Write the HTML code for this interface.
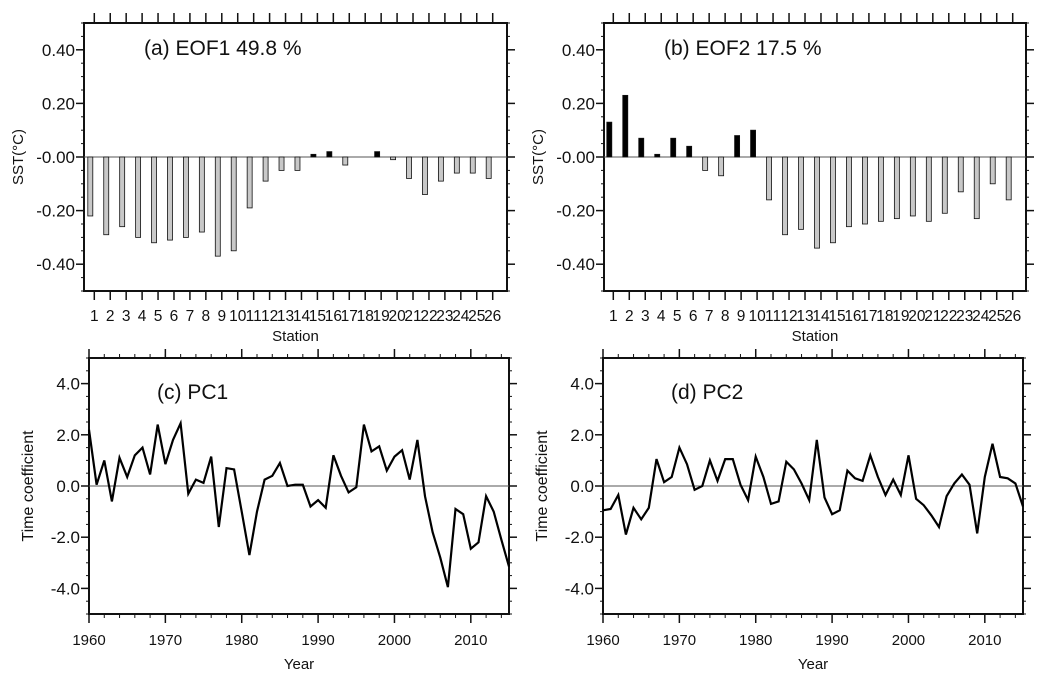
<!DOCTYPE html>
<html><head><meta charset="utf-8"><style>
html,body{margin:0;padding:0;background:#fff;}
svg{display:block;font-family:"Liberation Sans",Arial,sans-serif;}
</style></head><body>
<svg id="c" width="1056" height="687" viewBox="0 0 1056 687"></svg>
<script>
const stations = [1,2,3,4,5,6,7,8,9,10,11,12,13,14,15,16,17,18,19,20,21,22,23,24,25,26];
const eof1Values = [-0.22,-0.29,-0.26,-0.30,-0.32,-0.31,-0.30,-0.28,-0.37,-0.35,-0.19,-0.09,-0.05,-0.05,0.01,0.02,-0.03,0,0.02,-0.01,-0.08,-0.14,-0.09,-0.06,-0.06,-0.08];
const eof2Values = [0.13,0.23,0.07,0.01,0.07,0.04,-0.05,-0.07,0.08,0.10,-0.16,-0.29,-0.27,-0.34,-0.32,-0.26,-0.25,-0.24,-0.23,-0.22,-0.24,-0.21,-0.13,-0.23,-0.10,-0.16];
const years = [];
for (let y = 1960; y <= 2015; y++) years.push(y);
const pc1Values = [2.2,0.05,1.0,-0.6,1.1,0.35,1.2,1.5,0.45,2.4,0.85,1.8,2.45,-0.3,0.25,0.12,1.15,-1.6,0.7,0.65,-1.0,-2.7,-1.0,0.25,0.4,0.9,0.0,0.05,0.05,-0.8,-0.55,-0.85,1.2,0.4,-0.25,-0.05,2.4,1.35,1.55,0.6,1.15,1.4,0.25,1.8,-0.4,-1.8,-2.8,-3.95,-0.9,-1.1,-2.45,-2.2,-0.4,-1.0,-2.1,-3.15];
const pc2Values = [-0.95,-0.9,-0.35,-1.9,-0.85,-1.3,-0.85,1.05,0.15,0.35,1.5,0.85,-0.15,0.0,1.0,0.2,1.05,1.05,0.05,-0.55,1.15,0.35,-0.7,-0.6,0.95,0.65,0.1,-0.55,1.8,-0.45,-1.1,-0.95,0.6,0.3,0.2,1.2,0.35,-0.35,0.25,-0.35,1.2,-0.5,-0.75,-1.15,-1.6,-0.4,0.1,0.45,0.05,-1.85,0.35,1.65,0.35,0.3,0.1,-0.8];
const eofTickLabels = ["0.40","0.20","-0.00","-0.20","-0.40"];
const eofTickValues = [0.4,0.2,0,-0.2,-0.4];
const pcTickLabels = ["4.0","2.0","0.0","-2.0","-4.0"];
const pcTickValues = [4,2,0,-2,-4];
const yearTickValues = [1960,1970,1980,1990,2000,2010];

const NS = "http://www.w3.org/2000/svg";
const svg = document.getElementById('c');
function mk(tag, attrs, parent) {
  const e = document.createElementNS(NS, tag);
  for (const k in attrs) e.setAttribute(k, attrs[k]);
  (parent || svg).appendChild(e);
  return e;
}
function txt(x, y, s, size, anchor, parent) {
  const t = mk('text', {x: x, y: y, 'font-size': size, 'text-anchor': anchor || 'middle', fill: '#111'}, parent);
  t.textContent = s;
  return t;
}

function frame(g, L, T, R, B) {
  const r = mk('rect', {x: L, y: T, width: R - L, height: B - T, fill: 'none', stroke: '#111', 'stroke-width': 2}, g);
  
  
}

function yAxis(g, L, R, ys, vmin, vmax, minorStep, tickVals, tickLabs, title, titleX, midY, titleSize) {
  for (let v = vmin; v <= vmax + 1e-9; v += minorStep) {
    const y = ys(v);
    mk('line', {x1: L - 3, y1: y, x2: L, y2: y, stroke: '#111', 'stroke-width': 1}, g);
    mk('line', {x1: R, y1: y, x2: R + 3, y2: y, stroke: '#111', 'stroke-width': 1}, g);
  }
  tickVals.forEach((v, i) => {
    const y = ys(v);
    mk('line', {x1: L - 8, y1: y, x2: L, y2: y, stroke: '#111', 'stroke-width': 1.5}, g);
    mk('line', {x1: R, y1: y, x2: R + 8, y2: y, stroke: '#111', 'stroke-width': 1.5}, g);
    const t = txt(L - 9, y + 6, tickLabs[i], 17, 'end', g);
    
    
  });
  const tt = mk('text', {x: 0, y: 0, 'font-size': titleSize, 'text-anchor': 'middle', fill: '#111', transform: `translate(${titleX},${midY}) rotate(-90)`}, g);
  tt.textContent = title;
  
  
}

function barPanel(name, L, T, R, B, s1x, s26x, values, title, ytitleX) {
  const g = mk('g', {});
  
  
  const ys = v => T + (0.5 - v) / 1.0 * (B - T);
  const xs = s => s1x + (s - 1) * (s26x - s1x) / 25;
  frame(g, L, T, R, B);
  yAxis(g, L, R, ys, -0.5, 0.5, 0.05, eofTickValues, eofTickLabels, 'SST(°C)', ytitleX, (T + B) / 2, 15);
  mk('line', {x1: L, y1: ys(0), x2: R, y2: ys(0), stroke: '#555', 'stroke-width': 1}, g);
  stations.forEach((s, i) => {
    const x = xs(s);
    mk('line', {x1: x, y1: B, x2: x, y2: B + 9, stroke: '#111', 'stroke-width': 1.5}, g);
    mk('line', {x1: x, y1: T - 10, x2: x, y2: T, stroke: '#111', 'stroke-width': 1.5}, g);
    const lt = txt(x, B + 30, String(s), 15.5, 'middle', g);
    
    
    const v = values[i];
    if (v === 0) return;
    const y0 = ys(0), y1 = ys(v);
    const bar = mk('rect', {x: x - 6.5, y: Math.min(y0, y1), width: 5, height: Math.abs(y1 - y0),
      fill: v > 0 ? '#000' : '#c8c8c8', stroke: '#111', 'stroke-width': 0.8}, g);
    
    
  });
  const xt = txt((L + R) / 2, B + 50, 'Station', 15, 'middle', g);
  
  
  const pt = txt(L + 60, T + 32, title, 21, 'start', g);
  
  
}

function linePanel(name, L, T, R, B, values, title, ytitleX) {
  const g = mk('g', {});
  
  
  const ys = v => T + (5 - v) / 10 * (B - T);
  const xs = yr => L + (yr - 1960) / 55 * (R - L);
  frame(g, L, T, R, B);
  yAxis(g, L, R, ys, -5, 5, 0.5, pcTickValues, pcTickLabels, 'Time coefficient', ytitleX, (T + B) / 2, 16);
  mk('line', {x1: L, y1: ys(0), x2: R, y2: ys(0), stroke: '#555', 'stroke-width': 1}, g);
  for (let yr = 1960; yr <= 2015; yr += 2) {
    const x = xs(yr);
    mk('line', {x1: x, y1: B, x2: x, y2: B + 4, stroke: '#111', 'stroke-width': 1}, g);
    mk('line', {x1: x, y1: T - 4, x2: x, y2: T, stroke: '#111', 'stroke-width': 1}, g);
  }
  yearTickValues.forEach(yr => {
    const x = xs(yr);
    mk('line', {x1: x, y1: B, x2: x, y2: B + 9, stroke: '#111', 'stroke-width': 1.5}, g);
    mk('line', {x1: x, y1: T - 9, x2: x, y2: T, stroke: '#111', 'stroke-width': 1.5}, g);
    const lt = txt(x, B + 31, String(yr), 15, 'middle', g);
    
    
  });
  const pts = years.map((yr, i) => xs(yr).toFixed(1) + ',' + ys(values[i]).toFixed(1)).join(' ');
  const pl = mk('polyline', {points: pts, fill: 'none', stroke: '#000', 'stroke-width': 2.2, 'stroke-linejoin': 'miter'}, g);
  
  
  const xt = txt((L + R) / 2, B + 55, 'Year', 15, 'middle', g);
  
  
  const pt = txt(L + 68, T + 41, title, 21, 'start', g);
  
  
}

barPanel('panel-a-eof1', 84, 23, 507, 291, 94.3, 492.7, eof1Values, '(a) EOF1 49.8  %', 23);
barPanel('panel-b-eof2', 604, 23, 1026, 291, 613.3, 1012.7, eof2Values, '(b) EOF2 17.5 %', 543);
linePanel('panel-c-pc1', 89, 358, 509, 614, pc1Values, '(c) PC1', 33);
linePanel('panel-d-pc2', 603, 358, 1023, 614, pc2Values, '(d) PC2', 547);
</script>
</body></html>
